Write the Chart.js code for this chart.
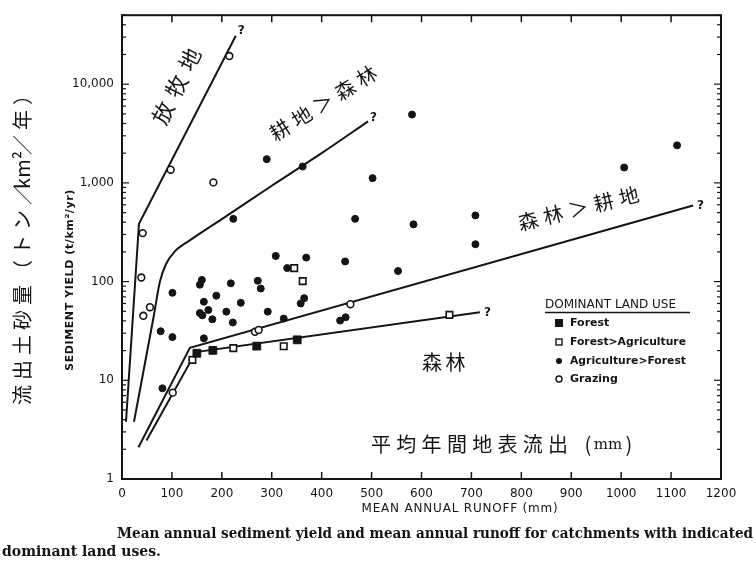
<!DOCTYPE html>
<html>
<head>
<meta charset="utf-8">
<script src="https://cdn.jsdelivr.net/npm/chart.js@4.4.1/dist/chart.umd.min.js"></script>
<style>
  html, body { margin: 0; padding: 0; background: #fff; }
  canvas { display: block; }
</style>
</head>
<body>
<canvas id="grafico" width="756" height="561"></canvas>
<script>
// Eixos
const xTickValues = [0, 100, 200, 300, 400, 500, 600, 700, 800, 900, 1000, 1100, 1200];
const xTickLabels = ['0', '100', '200', '300', '400', '500', '600', '700', '800', '900', '1000', '1100', '1200'];
const yTickValues = [1, 10, 100, 1000, 10000];
const yTickLabels = ['1', '10', '100', '1,000', '10,000'];

// Pontos (escoamento mm, sedimento t/km2/ano)
const forestX = [150, 182, 270, 351];
const forestY = [18.8, 20.1, 22.2, 25.7];

const forAgrX = [141, 223, 324, 345, 362, 656];
const forAgrY = [16.1, 21.2, 22.1, 137, 101, 46];

const agrForX = [81, 77.5, 101, 101, 160, 156, 218, 272, 189, 164, 238, 173, 156, 161, 209, 181, 222, 164,
  308, 369, 447, 331, 278, 365, 358, 292, 324, 437, 448, 553, 223, 290, 362, 502, 467, 581, 1112, 1006, 584, 708, 708];
const agrForY = [8.3, 31.4, 27.4, 77, 104, 93, 96, 102, 72, 62.5, 61, 51.5, 48, 45.5, 49.6, 41.5, 38.5, 26.6,
  182, 175, 160, 137, 85, 68, 60, 49.6, 42.2, 40.3, 43.5, 128, 432, 1740, 1466, 1117, 432, 4920, 2400, 1432, 380, 468, 239];

const grazingX = [215, 97.5, 183, 41.5, 38.7, 56, 42.7, 101.6, 266.4, 273.8, 457.5];
const grazingY = [19270, 1360, 1012, 310, 110, 55, 45, 7.5, 31, 32.4, 59];

// Linhas de envoltória
const grazingLineX = [8, 34, 228];
const grazingLineY = [3.8, 386, 31000];
const agrLineX = [24, 63, 76, 88, 105, 135, 200, 300, 400, 493];
const agrLineY = [3.8, 43, 100, 150, 200, 260, 430, 935, 2000, 4200];
const forAgrLineX = [33, 136, 1144];
const forAgrLineY = [2.1, 21.3, 590];
const forestLineX = [49, 148, 717];
const forestLineY = [2.45, 19.3, 48.8];

const legendLabels = ['Forest', 'Forest>Agriculture', 'Agriculture>Forest', 'Grazing'];

function pares(xs, ys) {
  return xs.map((x, i) => ({ x: x, y: ys[i] }));
}

const INK = '#141414';

function linha(xs, ys, curva) {
  return {
    data: pares(xs, ys),
    showLine: true,
    borderColor: INK,
    borderWidth: 2,
    pointRadius: 0,
    tension: 0,
    cubicInterpolationMode: curva ? 'monotone' : 'default',
    order: 2
  };
}

// desenha caracteres um a um ao longo de uma direção
function corrida(ctx, chars, x0, y0, angulo, passo, fonte) {
  const a = angulo * Math.PI / 180;
  ctx.font = fonte;
  ctx.textAlign = 'center';
  ctx.textBaseline = 'middle';
  chars.forEach((c, i) => {
    ctx.save();
    ctx.translate(x0 + Math.cos(a) * passo * i, y0 + Math.sin(a) * passo * i);
    ctx.rotate(a);
    ctx.fillText(c, 0, 0);
    ctx.restore();
  });
}

function traco(ctx, x1, y1, x2, y2) {
  ctx.beginPath();
  ctx.moveTo(x1, y1);
  ctx.lineTo(x2, y2);
  ctx.stroke();
}

const decoracao = {
  id: 'decoracao',
  afterDraw(chart) {
    const ctx = chart.ctx;
    const a = chart.chartArea;
    const x = chart.scales.x;
    const y = chart.scales.y;
    ctx.save();
    ctx.strokeStyle = INK;
    ctx.fillStyle = INK;

    // moldura
    ctx.lineWidth = 2;
    ctx.strokeRect(a.left, a.top, a.right - a.left, a.bottom - a.top);

    // marcas do eixo x (em cima e embaixo, para dentro)
    ctx.lineWidth = 1.5;
    xTickValues.slice(1, -1).forEach(v => {
      const px = x.getPixelForValue(v);
      traco(ctx, px, a.bottom, px, a.bottom - 7);
      traco(ctx, px, a.top, px, a.top + 7);
    });

    // marcas logarítmicas do eixo y (esquerda e direita)
    ctx.lineWidth = 1.2;
    for (let d = 1; d <= 10000; d *= 10) {
      for (let m = 1; m < 10; m++) {
        const v = d * m;
        if (v <= 1 || v > 50000) continue;
        const py = y.getPixelForValue(v);
        const len = m === 1 ? 7 : 4;
        traco(ctx, a.left, py, a.left + len, py);
        traco(ctx, a.right, py, a.right - len, py);
      }
    }

    // pontos de interrogação no fim das linhas
    ctx.font = 'bold 12px "DejaVu Sans"';
    ctx.textAlign = 'left';
    ctx.textBaseline = 'middle';
    const fins = [[grazingLineX, grazingLineY, 2, -5], [agrLineX, agrLineY, 2, -4], [forAgrLineX, forAgrLineY, 4, 0], [forestLineX, forestLineY, 4, 1]];
    fins.forEach(f => {
      const n = f[0].length - 1;
      ctx.fillText('?', x.getPixelForValue(f[0][n]) + f[2], y.getPixelForValue(f[1][n]) + f[3]);
    });

    // rótulos em japonês
    const jp = '"Noto Sans CJK JP"';
    corrida(ctx, ['放', '牧', '地'], 163, 113, -63.5, 30, '22px ' + jp);
    corrida(ctx, ['耕', '地', '＞', '森', '林'], 280, 130, -32, 25.5, '20px ' + jp);
    corrida(ctx, ['森', '林', '＞', '耕', '地'], 528, 221, -14, 26, '20px ' + jp);
    corrida(ctx, ['森', '林'], 432, 362, 0, 23.5, '20px ' + jp);
    corrida(ctx, ['平', '均', '年', '間', '地', '表', '流', '出'], 381, 444, 0, 25.3, '20px ' + jp);
    ctx.font = '20px ' + jp;
    ctx.fillText('(', 588, 444);
    ctx.fillText(')', 629, 444);
    ctx.font = '15px "DejaVu Serif"';
    ctx.fillText('mm', 608, 445);
    corrida(ctx, ['流', '出', '土', '砂', '量', '（', 'ト', 'ン', '／', 'km²', '／', '年', '）'], 22, 395, -90, 25, '20px ' + jp);

    // título do eixo y em inglês
    ctx.save();
    ctx.translate(70, 280);
    ctx.rotate(-Math.PI / 2);
    ctx.font = 'bold 11px "DejaVu Sans"';
    ctx.letterSpacing = '0.6px';
    ctx.textAlign = 'center';
    ctx.textBaseline = 'middle';
    ctx.fillText('SEDIMENT YIELD (t/km²/yr)', 0, 0);
    ctx.letterSpacing = '0px';
    ctx.restore();

    // título do eixo x
    ctx.font = '12px "DejaVu Sans"';
    ctx.letterSpacing = '0.8px';
    ctx.textAlign = 'center';
    ctx.textBaseline = 'middle';
    ctx.fillText('MEAN ANNUAL RUNOFF (mm)', 460, 509);
    ctx.letterSpacing = '0px';

    // legenda
    ctx.textAlign = 'left';
    ctx.font = '12px "DejaVu Sans"';
    ctx.fillText('DOMINANT LAND USE', 545, 305);
    ctx.lineWidth = 1.5;
    traco(ctx, 545, 312.5, 690, 312.5);
    ctx.font = 'bold 11px "DejaVu Sans"';
    const linhas = [323, 342, 361, 379];
    legendLabels.forEach((t, i) => ctx.fillText(t, 570, linhas[i], 116));
    const mx = 559;
    ctx.fillRect(mx - 4, linhas[0] - 4, 8, 8);
    ctx.lineWidth = 1.4;
    ctx.fillStyle = '#fff';
    ctx.fillRect(mx - 3, linhas[1] - 3, 6, 6);
    ctx.strokeRect(mx - 3, linhas[1] - 3, 6, 6);
    ctx.fillStyle = INK;
    ctx.beginPath(); ctx.arc(mx, linhas[2], 3, 0, Math.PI * 2); ctx.fill();
    ctx.beginPath(); ctx.arc(mx, linhas[3], 3, 0, Math.PI * 2); ctx.stroke();

    // legenda da figura
    ctx.font = 'bold 14px "DejaVu Serif"';
    ctx.textBaseline = 'alphabetic';
    ctx.fillText('Mean annual sediment yield and mean annual runoff for catchments with indicated', 117, 538, 636);
    ctx.fillText('dominant land uses.', 2, 556);

    ctx.restore();
  }
};

const ctx = document.getElementById('grafico').getContext('2d');

new Chart(ctx, {
  type: 'scatter',
  data: {
    datasets: [
      linha(grazingLineX, grazingLineY, false),
      linha(agrLineX, agrLineY, true),
      linha(forAgrLineX, forAgrLineY, false),
      linha(forestLineX, forestLineY, false),
      {
        label: legendLabels[0],
        data: pares(forestX, forestY),
        pointStyle: 'rect',
        pointRadius: 5.5,
        backgroundColor: INK,
        borderColor: INK,
        borderWidth: 1,
        order: 1
      },
      {
        label: legendLabels[1],
        data: pares(forAgrX, forAgrY),
        pointStyle: 'rect',
        pointRadius: 4.6,
        backgroundColor: '#fff',
        borderColor: INK,
        borderWidth: 1.6,
        order: 1
      },
      {
        label: legendLabels[2],
        data: pares(agrForX, agrForY),
        pointStyle: 'circle',
        pointRadius: 3.5,
        backgroundColor: INK,
        borderColor: INK,
        borderWidth: 1,
        order: 1
      },
      {
        label: legendLabels[3],
        data: pares(grazingX, grazingY),
        pointStyle: 'circle',
        pointRadius: 3.4,
        backgroundColor: '#fff',
        borderColor: INK,
        borderWidth: 1.6,
        order: 1
      }
    ]
  },
  options: {
    responsive: false,
    animation: false,
    layout: { padding: { top: 11, right: 35, left: 0, bottom: 0 } },
    plugins: {
      legend: { display: false },
      tooltip: { enabled: false }
    },
    scales: {
      x: {
        type: 'linear',
        min: 0,
        max: 1200,
        grid: { display: false, drawTicks: false },
        border: { display: false },
        afterBuildTicks: s => { s.ticks = xTickValues.map(v => ({ value: v })); },
        afterFit: s => { s.height = 82; },
        ticks: {
          autoSkip: false,
          maxRotation: 0,
          padding: 8,
          color: INK,
          font: { family: 'DejaVu Sans', size: 12 },
          callback: (v) => {
            const i = xTickValues.indexOf(v);
            return i >= 0 ? xTickLabels[i] : '';
          }
        }
      },
      y: {
        type: 'logarithmic',
        min: 1,
        max: 50000,
        grid: { display: false, drawTicks: false },
        border: { display: false },
        afterBuildTicks: s => { s.ticks = yTickValues.map(v => ({ value: v })); },
        afterFit: s => { s.width = 122; },
        ticks: {
          autoSkip: false,
          padding: 8,
          color: INK,
          font: { family: 'DejaVu Sans', size: 12 },
          callback: (v) => {
            const i = yTickValues.indexOf(v);
            return i >= 0 ? yTickLabels[i] : '';
          }
        }
      }
    }
  },
  plugins: [decoracao]
});
</script>
</body>
</html>
